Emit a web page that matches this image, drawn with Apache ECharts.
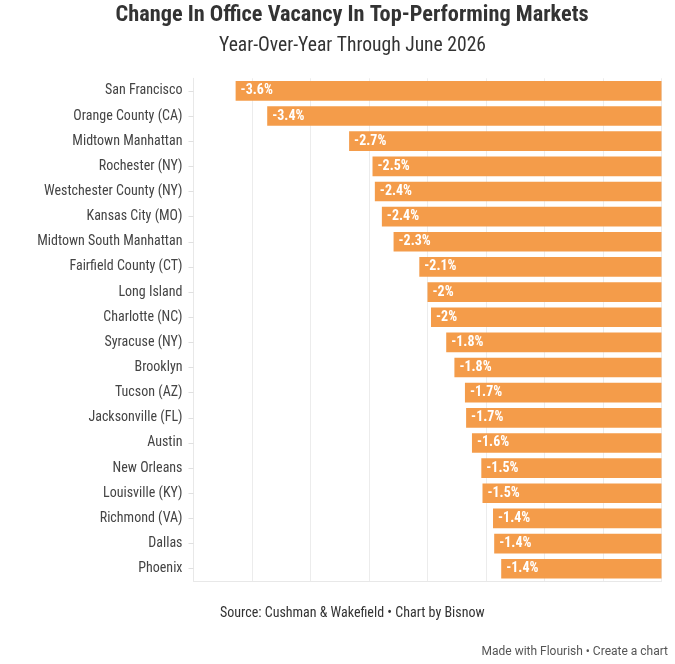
<!DOCTYPE html>
<html>
<head>
<meta charset="utf-8">
<script src="https://cdn.jsdelivr.net/npm/echarts@6/dist/echarts.min.js"></script>
<style>
html,body{margin:0;padding:0;background:#fff;}
#chart{width:675px;height:664px;}
</style>
</head>
<body>
<div id="chart"></div>
<script>
const markets = ['San Francisco','Orange County (CA)','Midtown Manhattan','Rochester (NY)','Westchester County (NY)','Kansas City (MO)','Midtown South Manhattan','Fairfield County (CT)','Long Island','Charlotte (NC)','Syracuse (NY)','Brooklyn','Tucson (AZ)','Jacksonville (FL)','Austin','New Orleans','Louisville (KY)','Richmond (VA)','Dallas','Phoenix'];
const vacancyChange = [-3.64,-3.37,-2.67,-2.47,-2.45,-2.39,-2.29,-2.07,-2.0,-1.97,-1.84,-1.77,-1.68,-1.67,-1.62,-1.54,-1.53,-1.44,-1.43,-1.37];
const titleText = 'Change In Office Vacancy In Top-Performing Markets';
const subtitleText = 'Year-Over-Year Through June 2026';
const sourceText = 'Source: Cushman & Wakefield • Chart by Bisnow';
const creditText = 'Made with Flourish • Create a chart';

const narrow = '"Liberation Sans Narrow", "Roboto Condensed", "DejaVu Sans Condensed", Roboto, sans-serif';
const chart = echarts.init(document.getElementById('chart'), null, {renderer:'canvas'});
chart.setOption({
  animation:false,
  backgroundColor:'#ffffff',
  title:[
    {text:titleText, left:115.5, top:4, padding:0, textStyle:{fontFamily:narrow, fontWeight:'bold', fontSize:22.3, color:'#333333'}},
    {text:subtitleText, left:219, top:36, padding:0, textStyle:{fontFamily:narrow, fontWeight:'normal', fontSize:19.6, color:'#333333'}}
  ],
  graphic:[
    {type:'text', left:220, top:606, style:{text:sourceText, font:'14px '+narrow, fill:'#333333'}},
    {type:'text', right:7, top:646, style:{text:creditText, font:'12px Roboto, sans-serif', fill:'#555555'}}
  ],
  grid:{left:193.5, right:13.5, top:78.3, bottom:82.7, containLabel:false},
  xAxis:{type:'value', min:-4, max:0, interval:0.5,
    axisLabel:{show:false}, axisTick:{show:false},
    axisLine:{show:true, lineStyle:{color:'#e8e8e8', width:1}},
    splitLine:{show:true, lineStyle:{color:'#ececec', width:1}}},
  yAxis:{type:'category', data:markets, inverse:true,
    axisLine:{show:true, onZero:false, lineStyle:{color:'#e8e8e8'}},
    axisTick:{show:true, alignWithLabel:true, length:5, lineStyle:{color:'#e0e0e0'}},
    axisLabel:{margin:11, fontFamily:narrow, fontSize:14, color:'#444444', padding:[3,0,0,0]}},
  series:[{type:'bar', data:vacancyChange, barCategoryGap:'22%',
    itemStyle:{color:'#f49c4a'},
    label:{show:true, position:'insideLeft', distance:5, color:'#ffffff', fontFamily:narrow, fontWeight:'bold', fontSize:14,
      formatter:p=>(Math.round(p.value*10)/10)+'%'}}]
});
</script>
</body>
</html>
